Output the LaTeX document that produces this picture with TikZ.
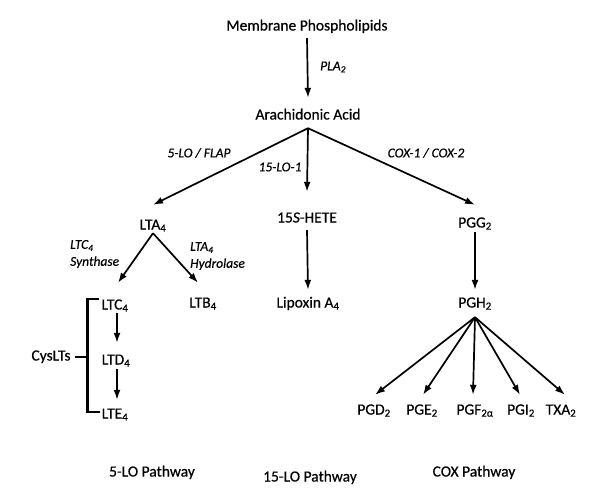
\documentclass[tikz,border=0pt]{standalone}
\usepackage{fontspec}
\setmainfont{Carlito}[FakeBold=0.5]
\usepackage{tikz}
\usetikzlibrary{arrows.meta}
\usetikzlibrary{positioning}
\tikzset{
    mol/.style = {inner sep=0pt, text height=10.5pt, text depth=3.5pt, font=\fontsize{15.5}{17}\selectfont},
    enz/.style = {inner sep=0pt, font=\fontsize{13.5}{17}\selectfont\itshape},
    fleche/.style = {->, line width=1.7pt},
    crochet/.style = {line width=2.4pt},
    >={Latex[length=10pt, width=7pt]}
}
\newcommand{\ind}[1]{\textsubscript{#1}}

\begin{document}
\begin{tikzpicture}[x=1pt, y=-1pt]
                \useasboundingbox (0,0) rectangle (601,493);
                \node[mol] (mem) at (307,27) {Membrane Phospholipids};
                \node[mol] (ara) at (308,116) {Arachidonic Acid};
                \coordinate (apex) at ([yshift=-5pt]ara.south);
                \draw[fleche] ([yshift=-4pt]mem.south) -- ([yshift=11pt]ara.north);
                \node[enz, anchor=west] (pla) at (320,67) {PLA\ind{2}};

                \node[mol] (lta) at (153,226) {LTA\ind{4}};
                \node[mol] (hete) at (307,219) {15\textit{S}-HETE};
                \node[mol] (pgg) at (475,224) {PGG\ind{2}};
                \draw[fleche] (apex) -- ([yshift=14pt]lta.north);
                \draw[fleche] (apex) -- ([yshift=20pt]hete.north);
                \draw[fleche] (apex) -- ([yshift=12pt]pgg.north);
                \node[enz] (flap) at (199,153) {5-LO / FLAP};
                \node[enz] (lox) at (280,167) {15-LO-1};
                \node[enz] (cox) at (426,153) {COX-1 / COX-2};

                \node[mol] (ltc) at (115,306) {LTC\ind{4}};
                \node[mol] (ltb) at (203,304) {LTB\ind{4}};
                \node[mol] (lipox) at (308,304) {Lipoxin A\ind{4}};
                \node[mol] (pgh) at (475,304) {PGH\ind{2}};
                \draw[fleche] (lta.south) -- ([xshift=3pt,yshift=16pt]ltc.north);
                \draw[fleche] (lta.south) -- ([xshift=-5pt,yshift=14pt]ltb.north);
                \node[enz, anchor=west, align=left] (synth) at (70,254) {LTC\ind{4}\\Synthase};
                \node[enz, anchor=west, align=left] (hydro) at (190,256) {LTA\ind{4}\\Hydrolase};
                \draw[fleche] ([yshift=-4pt]hete.south) -- ([yshift=7pt]lipox.north);
                \draw[fleche] ([yshift=-1pt]pgg.south) -- ([yshift=7pt]pgh.north);

                \node[mol] (ltd) at (116,361) {LTD\ind{4}};
                \node[mol] (lte) at (115,415) {LTE\ind{4}};
                \draw[fleche] ([xshift=2pt]ltc.south) -- ([xshift=1pt,yshift=11pt]ltd.north);
                \draw[fleche] ([xshift=1pt,yshift=-1pt]ltd.south) -- ([xshift=2pt,yshift=8pt]lte.north);
                \node[mol] (cys) at (51,357) {CysLTs};
                \draw[crochet] ([xshift=-2pt,yshift=7pt]ltc.west) -- ++(-12,0) |- ([xshift=-2pt,yshift=3pt]lte.west);
                \draw[crochet] ([xshift=4pt]cys.east) -- ++(11,0);

                \foreach \nom/\x/\dx/\txt in {pgd/374/1/PGD\ind{2}, pge/422/1/PGE\ind{2}, pgf/475/-2/PGF\ind{2α}, pgi/521/-1/PGI\ind{2}, txa/561/4/TXA\ind{2}} {
                        \node[mol] (\nom) at (\x,411) {\txt};
                        \draw[fleche] ([yshift=-6pt]pgh.south) -- ([xshift=\dx pt,yshift=9pt]\nom.north);
                    }

                \node[mol] (v5) at (152,473) {5-LO Pathway};
                \node[mol] (v15) at (310,478) {15-LO Pathway};
                \node[mol] (vcox) at (474,473) {COX Pathway};
            \end{tikzpicture}
\end{document}
